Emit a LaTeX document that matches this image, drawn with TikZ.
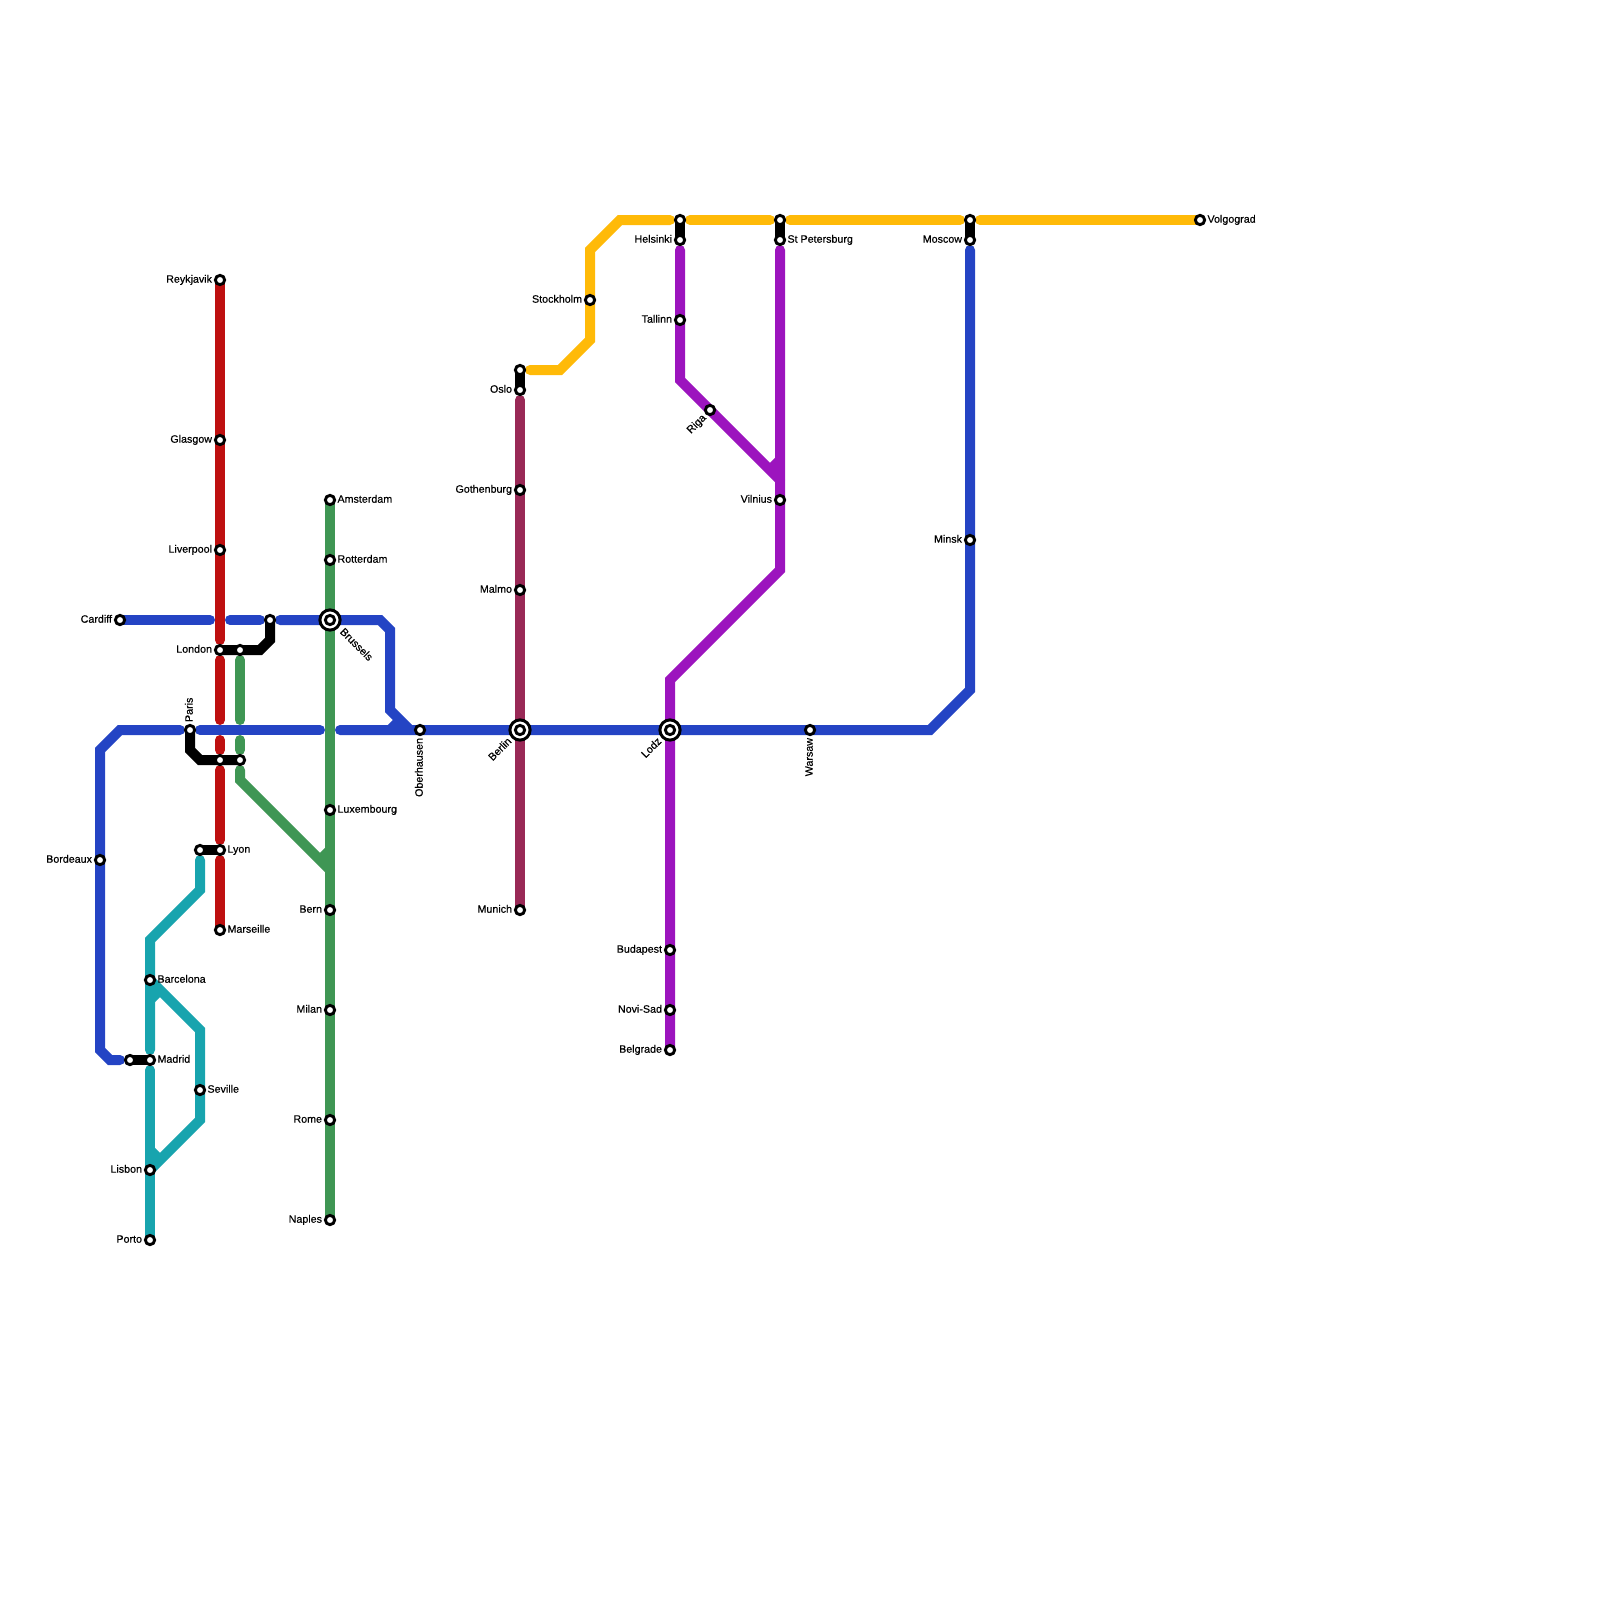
\documentclass[tikz,border=0pt]{standalone}
\usepackage{fontspec}
\newfontfamily\lblfont[FakeBold=0.4]{Liberation Sans}
\usetikzlibrary{backgrounds}
\definecolor{cblue}{HTML}{2444C4}
\definecolor{cred}{HTML}{BE1010}
\definecolor{cgreen}{HTML}{3F9654}
\definecolor{cteal}{HTML}{18A4AE}
\definecolor{camber}{HTML}{FFBA08}
\definecolor{cpurple}{HTML}{9C14BE}
\definecolor{cmaroon}{HTML}{992956}
\tikzset{
  metro/.style={line width=10pt,line cap=round,line join=miter,miter limit=10},
  stub/.style={line width=10pt,line cap=butt},
  stn/.style={circle,draw=black,fill=white,line width=2.9pt,minimum size=9.3pt,inner sep=0pt,outer sep=0pt},
  hub/.style={circle,draw=black,fill=white,line width=3pt,minimum size=20.2pt,inner sep=0pt,outer sep=0pt},
  lab/.style={font=\lblfont\fontsize{10.7pt}{12pt}\selectfont,text=black,inner sep=0pt,outer sep=0pt},
  lr/.style={lab,anchor=base west},
  ll/.style={lab,anchor=base east},
}
\begin{document}
\begin{tikzpicture}[x=1pt,y=-1pt]
\useasboundingbox (0,0) rectangle (1600,1600);
% hubs
\foreach \n/\x/\y in {Brussels/330/620,Berlin/520/730,Lodz/670/730}{
  \node[hub] (\n) at (\x,\y) {};
  \node[stn] (\n inner) at (\x,\y) {};
}
% stations
\foreach \n/\x/\y in {
 Cardiff/120/620,London/220/650,LondonE/240/650,CardiffE/270/620,
 Paris/190/730,ParisE/220/760,ParisF/240/760,Oberhausen/420/730,
 Bordeaux/100/860,Madrid/150/1060,MadridW/130/1060,
 Reykjavik/220/280,Glasgow/220/440,Liverpool/220/550,Lyon/220/850,LyonW/200/850,Marseille/220/930,
 Amsterdam/330/500,Rotterdam/330/560,Luxembourg/330/810,Bern/330/910,Milan/330/1010,Rome/330/1120,Naples/330/1220,
 Barcelona/150/980,Seville/200/1090,Lisbon/150/1170,Porto/150/1240,
 OsloN/520/370,Oslo/520/390,Gothenburg/520/490,Malmo/520/590,Munich/520/910,
 Stockholm/590/300,HelsinkiN/680/220,Helsinki/680/240,Tallinn/680/320,Riga/710/410,
 StPN/780/220,StP/780/240,Vilnius/780/500,Warsaw/810/730,
 Budapest/670/950,NoviSad/670/1010,Belgrade/670/1050,
 MoscowN/970/220,Moscow/970/240,Minsk/970/540,Volgograd/1200/220}{
  \node[stn] (\n) at (\x,\y) {};
}
% way points of the lines
\foreach \n/\x/\y in {
 a1/210/620,a2/230/620,a3/260/620,a4/280/620,a5/380/620,a6/390/630,a7/390/710,a8/410/730,
 a9/120/1060,a10/110/1060,a11/100/1050,a12/100/750,a13/120/730,a14/180/730,a15/200/730,a16/320/730,a17/340/730,
 a18/930/730,a19/970/690,a20/970/250,a21/390/730,a22/400/720,
 r1/220/640,r2/220/660,r3/220/720,r4/220/740,r5/220/750,r6/220/770,r7/220/840,r8/220/860,
 g1/240/660,g2/240/720,g3/240/740,g4/240/750,g5/240/770,g6/240/780,g7/330/870,g8/330/850,g9/320/860,
 t1/200/860,t2/200/890,t3/150/940,t4/150/1050,t5/150/1070,t6/200/1030,t7/200/1120,t8/150/1000,t9/160/990,t10/150/1150,t11/160/1160,
 m1/520/400,
 y1/530/370,y2/560/370,y3/590/340,y4/590/250,y5/620/220,y6/670/220,y7/690/220,y8/770/220,y9/790/220,y10/960/220,y11/980/220,
 p1/680/250,p2/680/380,p3/780/480,p4/780/250,p5/780/570,p6/670/680,p7/780/460,p8/770/470,
 b1/260/650,b2/270/640,b3/190/750,b4/200/760}{
  \coordinate (\n) at (\x,\y);
}
\begin{scope}[on background layer]
% blue
\draw[metro,cblue] (Cardiff.center) -- (a1);
\draw[metro,cblue] (a2) -- (a3);
\draw[metro,cblue] (a4) -- (Brussels.center) -- (a5) -- (a6) -- (a7) -- (a8);
\draw[metro,cblue] (a9) -- (a10) -- (a11) -- (a12) -- (a13) -- (a14);
\draw[metro,cblue] (a15) -- (a16);
\draw[metro,cblue] (a17) -- (Oberhausen.center) -- (Berlin.center) -- (Lodz.center) -- (a18) -- (a19) -- (a20);
\draw[stub,cblue] (a21) -- (a22);
% red
\draw[metro,cred] (Reykjavik.center) -- (r1);
\draw[metro,cred] (r2) -- (r3);
\draw[metro,cred] (r4) -- (r5);
\draw[metro,cred] (r6) -- (r7);
\draw[metro,cred] (r8) -- (Marseille.center);
% green
\draw[metro,cgreen] (g1) -- (g2);
\draw[metro,cgreen] (g3) -- (g4);
\draw[metro,cgreen] (g5) -- (g6) -- (g7);
\draw[metro,cgreen] (Amsterdam.center) -- (Naples.center);
\draw[stub,cgreen] (g8) -- (g9);
% teal
\draw[metro,cteal] (t1) -- (t2) -- (t3) -- (t4);
\draw[metro,cteal] (t5) -- (Porto.center);
\draw[metro,cteal] (Barcelona.center) -- (t6) -- (t7) -- (Lisbon.center);
\draw[stub,cteal] (t8) -- (t9);
\draw[stub,cteal] (t10) -- (t11);
% maroon
\draw[metro,cmaroon] (m1) -- (Munich.center);
% amber
\draw[metro,camber] (y1) -- (y2) -- (y3) -- (y4) -- (y5) -- (y6);
\draw[metro,camber] (y7) -- (y8);
\draw[metro,camber] (y9) -- (y10);
\draw[metro,camber] (y11) -- (Volgograd.center);
% purple
\draw[metro,cpurple] (p1) -- (p2) -- (p3);
\draw[metro,cpurple] (p4) -- (p5) -- (p6) -- (Belgrade.center);
\draw[stub,cpurple] (p7) -- (p8);
% black links
\draw[metro,black] (London.center) -- (b1) -- (b2) -- (CardiffE.center);
\draw[metro,black] (Paris.center) -- (b3) -- (b4) -- (ParisF.center);
\draw[metro,black] (LyonW.center) -- (Lyon.center);
\draw[metro,black] (MadridW.center) -- (Madrid.center);
\draw[metro,black] (OsloN.center) -- (Oslo.center);
\draw[metro,black] (HelsinkiN.center) -- (Helsinki.center);
\draw[metro,black] (StPN.center) -- (StP.center);
\draw[metro,black] (MoscowN.center) -- (Moscow.center);
\end{scope}
% labels to the left
\foreach \n/\t/\x/\y in {
 Cardiff/Cardiff/112/622.7,London/London/212/652.7,Bordeaux/Bordeaux/92/862.7,
 Reykjavik/Reykjavik/212/282.7,Glasgow/Glasgow/212/442.7,Liverpool/Liverpool/212/552.7,
 Bern/Bern/322/912.7,Milan/Milan/322/1012.7,Rome/Rome/322/1122.7,Naples/Naples/322/1222.7,
 Lisbon/Lisbon/142/1172.7,Porto/Porto/142/1242.7,
 Oslo/Oslo/512/392.7,Gothenburg/Gothenburg/512/492.7,Malmo/Malmo/512/592.7,Munich/Munich/512/912.7,
 Stockholm/Stockholm/582/302.7,Helsinki/Helsinki/672/242.7,Tallinn/Tallinn/672/322.7,
 Vilnius/Vilnius/772/502.7,Budapest/Budapest/662/952.7,NoviSad/Novi-Sad/662/1012.7,Belgrade/Belgrade/662/1052.7,
 Moscow/Moscow/962/242.7,Minsk/Minsk/962/542.7}{
  \node[ll] (label \n) at (\x,\y) {\t};
}
% labels to the right
\foreach \n/\t/\x/\y in {
 Lyon/Lyon/227.5/852.7,Marseille/Marseille/227.5/932.7,
 Amsterdam/Amsterdam/337.5/502.7,Rotterdam/Rotterdam/337.5/562.7,Luxembourg/Luxembourg/337.5/812.7,
 Barcelona/Barcelona/157.5/982.7,Madrid/Madrid/157.5/1062.7,Seville/Seville/207.5/1092.7,
 StP/St Petersburg/787.5/242.7,Volgograd/Volgograd/1207.5/222.7}{
  \node[lr] (label \n) at (\x,\y) {\t};
}
% rotated labels
\node[lr,rotate=90] (label Paris) at (192.7,722) {Paris};
\node[ll,rotate=90] (label Oberhausen) at (422.7,738) {Oberhausen};
\node[ll,rotate=90] (label Warsaw) at (812.7,738) {Warsaw};
\node[lr,rotate=-45] (label Brussels) at (339.5,632.5) {Brussels};
\node[ll,rotate=45] (label Berlin) at (512,742) {Berlin};
\node[ll,rotate=45] (label Lodz) at (662,742) {Lodz};
\node[ll,rotate=45] (label Riga) at (706.5,418.5) {Riga};
\end{tikzpicture}
\end{document}
